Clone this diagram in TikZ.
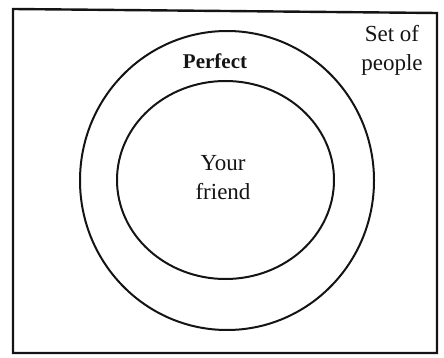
\documentclass[tikz,border=0pt]{standalone}
\usepackage{fontspec}
\setmainfont{Liberation Serif}
\usepackage{tikz}
\usetikzlibrary{positioning}
\definecolor{InkBlack}{RGB}{20,20,20}

\begin{document}
\begin{tikzpicture}[x=1pt,y=-1pt,every node/.style={font=\fontsize{23}{29}\selectfont,text=InkBlack,align=center}]
\tikzset{ring/.style={draw=InkBlack,line width=2pt}}
\useasboundingbox (0,0) rectangle (444,358);
\draw[InkBlack,line width=2.4pt] (13,9) -- (437,13) -- (437,353) -- (13,353) -- cycle;
\draw[ring] (227,180.5) ellipse [x radius=147,y radius=149.5];
\draw[ring] (225.5,180) ellipse [x radius=108.5,y radius=99];
\node[font=\fontsize{21}{24}\selectfont\bfseries] (perfect) at (215,61) {Perfect};
\node (friend) at (223,178) {Your\\friend};
\node (people) at (392,50) {Set of\\people};
\end{tikzpicture}
\end{document}
